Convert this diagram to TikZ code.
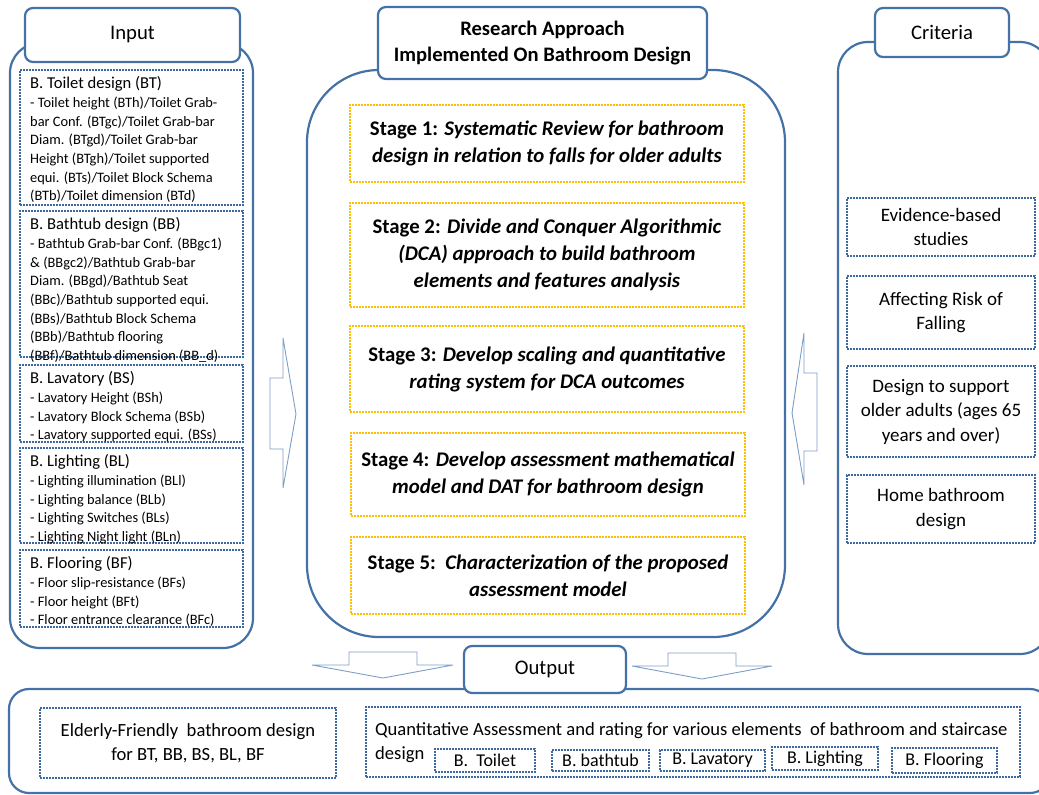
\documentclass[tikz,border=0pt]{standalone}
\usepackage{fontspec}
\setmainfont{Carlito}
\usepackage{xcolor}
\usepackage{tikz}

\definecolor{panelblue}{RGB}{68,114,166}
\definecolor{dotblue}{RGB}{62,104,160}
\definecolor{stagegold}{RGB}{255,190,0}
\definecolor{arrowblue}{RGB}{125,158,200}

\newcommand{\txtsize}[2]{\fontsize{#1}{#2}\selectfont}

\begin{document}
\begin{tikzpicture}[x=1pt,y=-1pt,
    panel/.style={draw=panelblue,line width=2.2pt},
    header/.style={draw=panelblue,line width=2.2pt,fill=white,rounded corners=8pt,align=center},
    dotbox/.style={draw=dotblue,line width=1.6pt,dash pattern=on 1.6pt off 1.4pt,inner sep=0pt,align=center},
    stagebox/.style={draw=stagegold,line width=1.6pt,dash pattern=on 1.6pt off 1.4pt,inner sep=0pt,align=center,minimum width=394pt,font=\txtsize{20.8}{27}\bfseries},
    blockarrow/.style={draw=arrowblue,line width=0.9pt,fill=white},
    boxtitle/.style={anchor=north west,inner sep=0pt,font=\txtsize{16.6}{19}},
    itemtext/.style={anchor=north west,inner sep=0pt,align=left,font=\txtsize{14.4}{18.6}},
  ]
    \clip (0,0) rectangle (1039,795);

    % Panels
    \draw[panel,rounded corners=30pt] (10,43) rectangle (253,648);
    \draw[panel,rounded corners=72pt] (307,70) rectangle (785,637);
    \draw[panel,rounded corners=30pt] (838,42) rectangle (1050,654);
    \draw[panel,rounded corners=20pt] (9,689) rectangle (1050,793);

    % Input
    \node[header,minimum width=215pt,minimum height=54pt,font=\txtsize{20.7}{23}] (input) at (132.5,35) {Input};

    \node[dotbox,minimum width=223pt,minimum height=135pt] (bt) at (131.5,137.5) {};
    \node[boxtitle] (btTitle) at (30,76) {B. Toilet design (BT)};
    \node[itemtext] (btItems) at (30,97) {- Toilet height (BTh)/Toilet Grab-\\bar Conf. (BTgc)/Toilet Grab-bar\\Diam. (BTgd)/Toilet Grab-bar\\Height (BTgh)/Toilet supported\\equi. (BTs)/Toilet Block Schema\\(BTb)/Toilet dimension (BTd)};

    \node[dotbox,minimum width=223pt,minimum height=146pt] (bb) at (131.5,284) {};
    \node[boxtitle] (bbTitle) at (30,217) {B. Bathtub design (BB)};
    \node[itemtext] (bbItems) at (30,238) {- Bathtub Grab-bar Conf. (BBgc1)\\\& (BBgc2)/Bathtub Grab-bar\\Diam. (BBgd)/Bathtub Seat\\(BBc)/Bathtub supported equi.\\(BBs)/Bathtub Block Schema\\(BBb)/Bathtub flooring\\(BBf)/Bathtub dimension (BB\_d)};

    \node[dotbox,minimum width=223pt,minimum height=77pt] (bs) at (131.5,403.5) {};
    \node[boxtitle] (bsTitle) at (30,371) {B. Lavatory (BS)};
    \node[itemtext] (bsItems) at (30,392) {- Lavatory Height (BSh)\\- Lavatory Block Schema (BSb)\\- Lavatory supported equi. (BSs)};

    \node[dotbox,minimum width=223pt,minimum height=95pt] (bl) at (131.5,495.5) {};
    \node[boxtitle] (blTitle) at (30,454) {B. Lighting (BL)};
    \node[itemtext] (blItems) at (30,475) {- Lighting illumination (BLl)\\- Lighting balance (BLb)\\- Lighting Switches (BLs)\\- Lighting Night light (BLn)};

    \node[dotbox,minimum width=223pt,minimum height=77pt] (bf) at (131.5,588.5) {};
    \node[boxtitle] (bfTitle) at (30,556) {B. Flooring (BF)};
    \node[itemtext] (bfItems) at (30,577) {- Floor slip-resistance (BFs)\\- Floor height (BFt)\\- Floor entrance clearance (BFc)};

    % Research approach
    \node[header,minimum width=329pt,minimum height=72pt,font=\txtsize{20.6}{26}\bfseries] (approach) at (542.5,43) {Research Approach\\Implemented On Bathroom Design};

    \node[stagebox,minimum height=77pt] (stage1) at (547,143.5) {Stage 1: \textit{Systematic Review for bathroom}\\\textit{design in relation to falls for older adults}};
    \node[stagebox,minimum height=104pt] (stage2) at (547,255) {Stage 2: \textit{Divide and Conquer Algorithmic}\\\textit{(DCA) approach to build bathroom}\\\textit{elements and features analysis}};
    \node[stagebox,minimum height=86pt] (stage3) at (547,369) {Stage 3: \textit{Develop scaling and quantitative}\\\textit{rating system for DCA outcomes}};
    \node[stagebox,minimum height=83pt] (stage4) at (548,474.5) {Stage 4: \textit{Develop assessment mathematical}\\\textit{model and DAT for bathroom design}};
    \node[stagebox,minimum height=77pt] (stage5) at (548,575.5) {Stage 5:\ \ \textit{Characterization of the proposed}\\\textit{assessment model}};

    % Criteria
    \node[header,minimum width=134pt,minimum height=49pt,font=\txtsize{20.7}{23}] (criteria) at (942,32.5) {Criteria};

    \node[dotbox,minimum width=188pt,minimum height=58pt,font=\txtsize{19}{24.5}] (evidence) at (941,227) {Evidence-based\\studies};
    \node[dotbox,minimum width=188pt,minimum height=73pt,font=\txtsize{19}{24.5}] (risk) at (941,312.5) {Affecting Risk of\\Falling};
    \node[dotbox,minimum width=188pt,minimum height=91pt,font=\txtsize{19}{24.5}] (older) at (941,411.5) {Design to support\\older adults (ages 65\\years and over)};
    \node[dotbox,minimum width=188pt,minimum height=68pt,font=\txtsize{19}{24.5}] (home) at (941,509) {Home bathroom\\design};

    % Arrows
    \draw[blockarrow] (270,378) -- (283,378) -- (283,338) -- (296,414) -- (283,488) -- (283,449) -- (270,449) -- cycle;
    \draw[blockarrow] (817,373) -- (804,373) -- (804,333) -- (792,413) -- (804,485) -- (804,451) -- (817,451) -- cycle;
    \draw[blockarrow] (349,652) -- (417,652) -- (417,665) -- (453,665) -- (383,678) -- (312,665) -- (349,665) -- cycle;
    \draw[blockarrow] (668,653) -- (736,653) -- (736,666) -- (772,666) -- (702,679) -- (632,666) -- (668,666) -- cycle;

    % Output
    \node[header,minimum width=162pt,minimum height=47pt,font=\txtsize{20.7}{23}] (output) at (545,669.5) {Output};

    \node[dotbox,minimum width=296pt,minimum height=70pt,font=\txtsize{18.6}{24}] (friendly) at (188,743) {Elderly-Friendly\ \ bathroom design\\for BT, BB, BS, BL, BF};
    \node[dotbox,minimum width=654pt,minimum height=70pt] (rating) at (693,742) {};
    \node[anchor=north west,inner sep=0pt,align=left,font=\txtsize{18.6}{24}] (ratingText) at (375,722) {Quantitative Assessment and rating for various elements\ \ of bathroom and staircase\\design};

    \node[dotbox,minimum width=100pt,minimum height=23pt,font=\txtsize{18}{20}] (toilet) at (485,760.5) {B.\ \ Toilet};
    \node[dotbox,minimum width=97pt,minimum height=21pt,font=\txtsize{18}{20}] (bathtub) at (600.5,760.5) {B. bathtub};
    \node[dotbox,minimum width=105pt,minimum height=21pt,font=\txtsize{18}{20}] (lavatory) at (712.5,760.5) {B. Lavatory};
    \node[dotbox,minimum width=106pt,minimum height=23pt,font=\txtsize{18}{20}] (lighting) at (825,758.5) {B. Lighting};
    \node[dotbox,minimum width=105pt,minimum height=25pt,font=\txtsize{18}{20}] (flooring) at (944.5,760.5) {B. Flooring};
\end{tikzpicture}
\end{document}
